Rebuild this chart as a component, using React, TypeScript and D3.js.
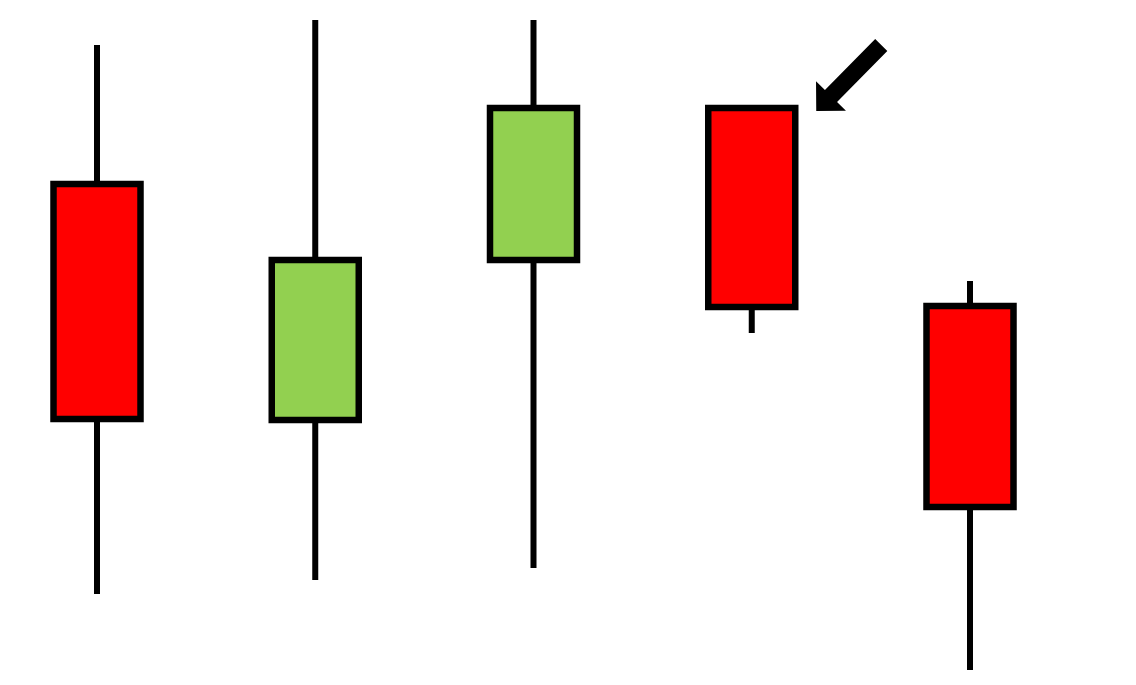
import React from "react";
import * as d3 from "d3";

const labels = ["C1", "C2", "C3", "C4", "C5"];
const opens = [501, 265, 425, 577, 379];
const closes = [266, 425, 577, 378, 178];
const highs = [640, 665, 665, 577, 404];
const lows = [91, 105, 117, 352, 15];
const highlighted = ["C4"];

const W = 1136;
const H = 685;

export default function App() {
  const x = d3.scalePoint<string>().domain(labels).range([97, 970]);
  const y = d3.scaleLinear().domain([0, H]).range([H, 0]);
  const bodyW = 87;
  const sw = 6.5;

  const arrowPath = (tipX: number, tipY: number) => {
    const dx = 65, dy = -66;
    const len = Math.hypot(dx, dy);
    const ux = -dx / len, uy = -dy / len; // direction tail -> tip
    const vx = -uy, vy = ux;
    const tailX = tipX + dx, tailY = tipY + dy;
    const shaftHalf = 8.5, headHalf = 21, headLen = 21;
    const bx = tipX - ux * headLen, by = tipY - uy * headLen;
    const pts: [number, number][] = [
      [tailX + vx * shaftHalf, tailY + vy * shaftHalf],
      [bx + vx * shaftHalf, by + vy * shaftHalf],
      [bx + vx * headHalf, by + vy * headHalf],
      [tipX, tipY],
      [bx - vx * headHalf, by - vy * headHalf],
      [bx - vx * shaftHalf, by - vy * shaftHalf],
      [tailX - vx * shaftHalf, tailY - vy * shaftHalf],
    ];
    return d3.line()(pts) + "Z";
  };

  return (
    <svg
      width={W}
      height={H}
      style={{ position: "absolute", left: 0, top: 0, background: "#fff" }}
    >
      {labels.map((l, i) => {
        const cx = x(l)!;
        const top = y(Math.max(opens[i], closes[i]));
        const bot = y(Math.min(opens[i], closes[i]));
        const up = closes[i] > opens[i];
        return (
          <g key={l}>
            <line
              x1={cx}
              x2={cx}
              y1={y(highs[i])}
              y2={y(lows[i])}
              stroke="#000"
              strokeWidth={6}
            />
            <rect
              x={cx - bodyW / 2}
              y={top}
              width={bodyW}
              height={bot - top}
              fill={up ? "#92D050" : "#FF0000"}
              stroke="#000"
              strokeWidth={sw}
            />
          </g>
        );
      })}
      {highlighted.map((l) => {
        const i = labels.indexOf(l);
        const tipX = x(l)! + bodyW / 2 + 21;
        const tipY = y(highs[i]) + 3;
        return <path key={l} d={arrowPath(tipX, tipY)} fill="#000" />;
      })}
    </svg>
  );
}
